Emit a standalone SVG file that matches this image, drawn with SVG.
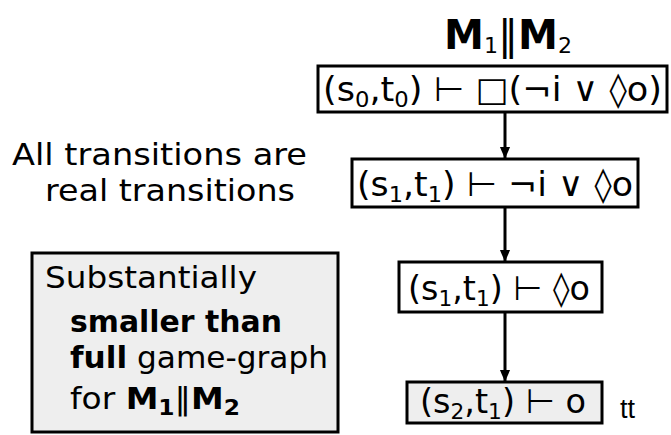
<svg xmlns="http://www.w3.org/2000/svg" width="671" height="435" viewBox="0 0 671 435">
<defs>
<marker id="ah" markerWidth="12" markerHeight="14" refX="13" refY="6" orient="auto" markerUnits="userSpaceOnUse" viewBox="0 0 14 12">
<path d="M0,0 L14,6 L0,12 z" fill="#000"/>
</marker>
<style>
.t{font-family:"DejaVu Sans","Liberation Sans",sans-serif;fill:#000}
.box{fill:#fff;stroke:#000;stroke-width:3}
.gbox{fill:#eeeeee;stroke:#000;stroke-width:3}
.sub{font-size:22px}
.c{stroke:#000;stroke-width:3;fill:none;marker-end:url(#ah)}
</style>
</defs>
<rect width="671" height="435" fill="#fff"/>
<g id="title">
<text class="t" x="444" y="49" font-size="40" font-weight="bold" textLength="128" lengthAdjust="spacingAndGlyphs">M<tspan class="sub" font-size="26" dy="4" font-weight="normal">1</tspan><tspan dy="-4" font-weight="normal">‖</tspan>M<tspan class="sub" font-size="26" dy="4" font-weight="normal">2</tspan></text>
</g>
<g id="connectors">
<line class="c" x1="505" y1="112" x2="505" y2="158"/>
<line class="c" x1="505" y1="208" x2="505" y2="261"/>
<line class="c" x1="505" y1="313" x2="505" y2="381"/>
</g>
<g id="n0">
<rect class="box" x="318" y="66" width="349" height="46"/>
<text class="t" x="323" y="101" font-size="34" textLength="339" lengthAdjust="spacingAndGlyphs">(s<tspan class="sub" dy="6">0</tspan><tspan dy="-6">,t</tspan><tspan class="sub" dy="6">0</tspan><tspan dy="-6">) ⊢ □(¬i ∨ ◊o)</tspan></text>
</g>
<g id="n1">
<rect class="box" x="352" y="159" width="286" height="48"/>
<text class="t" x="357" y="196" font-size="34" textLength="276" lengthAdjust="spacingAndGlyphs">(s<tspan class="sub" dy="6">1</tspan><tspan dy="-6">,t</tspan><tspan class="sub" dy="6">1</tspan><tspan dy="-6">) ⊢ ¬i ∨ ◊o</tspan></text>
</g>
<g id="n2">
<rect class="box" x="399" y="262" width="203" height="50"/>
<text class="t" x="408" y="300" font-size="34" textLength="182" lengthAdjust="spacingAndGlyphs">(s<tspan class="sub" dy="6">1</tspan><tspan dy="-6">,t</tspan><tspan class="sub" dy="6">1</tspan><tspan dy="-6">) ⊢ ◊o</tspan></text>
</g>
<g id="n3">
<rect class="gbox" x="407" y="382" width="195" height="41"/>
<text class="t" x="420" y="413" font-size="34" textLength="166" lengthAdjust="spacingAndGlyphs">(s<tspan class="sub" dy="6">2</tspan><tspan dy="-6">,t</tspan><tspan class="sub" dy="6">1</tspan><tspan dy="-6">) ⊢ o</tspan></text>
<text x="620" y="418" font-family="Liberation Sans,Arial,sans-serif" font-size="27">tt</text>
</g>
<g id="note1">
<text class="t" x="12" y="165" font-size="31" textLength="295" lengthAdjust="spacingAndGlyphs">All transitions are</text>
<text class="t" x="45" y="201" font-size="31" textLength="250" lengthAdjust="spacingAndGlyphs">real transitions</text>
</g>
<g id="note2">
<rect class="gbox" x="32" y="253" width="306" height="179"/>
<text class="t" x="45" y="288" font-size="31" textLength="212" lengthAdjust="spacingAndGlyphs">Substantially</text>
<text class="t" x="70" y="332" font-size="31" font-weight="bold" textLength="212" lengthAdjust="spacingAndGlyphs">smaller than</text>
<text class="t" x="70" y="368" font-size="31" textLength="258" lengthAdjust="spacingAndGlyphs"><tspan font-weight="bold">full</tspan> game-graph</text>
<text class="t" x="70" y="409" font-size="31" textLength="170" lengthAdjust="spacingAndGlyphs">for <tspan font-weight="bold">M</tspan><tspan class="sub" dy="6" font-weight="bold">1</tspan><tspan dy="-6">‖</tspan><tspan font-weight="bold">M</tspan><tspan class="sub" dy="6" font-weight="bold">2</tspan></text>
</g>
</svg>
